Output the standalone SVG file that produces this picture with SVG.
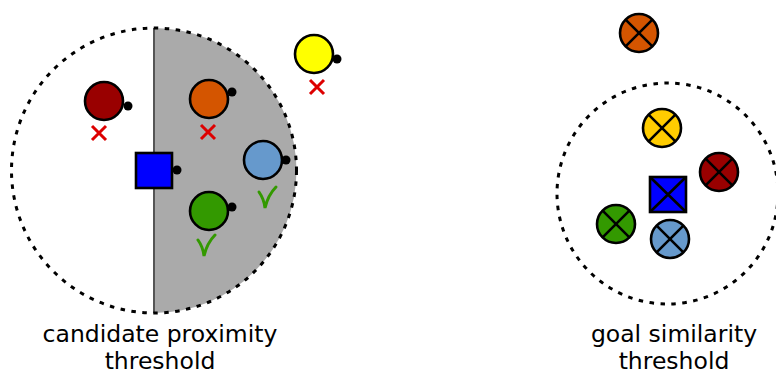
<svg xmlns="http://www.w3.org/2000/svg" width="776" height="371" viewBox="0 0 776 371">
<style>
.ring{fill:none;stroke:#000;stroke-width:3;stroke-dasharray:4.5 6.5}
.n{stroke:#000;stroke-width:2.6}
.dot{fill:#000}
.x{stroke:#dd0000;stroke-width:3;fill:none}
.ok{stroke:#339900;stroke-width:3;fill:none;stroke-linecap:round}
.cr{stroke:#000;stroke-width:2.6}
.lbl{font-family:"DejaVu Sans",sans-serif;font-size:23.5px;fill:#000;text-anchor:middle}
</style>
<defs>
<g id="xm"><path class="x" d="M-7 -7L7 7M-7 7L7 -7"/></g>
</defs>
<rect width="776" height="371" fill="#fff"/>
<g id="proximity-region">
<path d="M154 28 A142.5 142.5 0 0 1 154 313 Z" fill="#aaaaaa"/>
<line x1="154" y1="28" x2="154" y2="313" stroke="#555" stroke-width="2"/>
<circle class="ring" cx="154" cy="170.5" r="142.5"/>
</g>
<g id="left-darkred"><circle class="n" cx="104" cy="101" r="19" fill="#990000"/><circle class="dot" cx="128" cy="106" r="4.5"/><use href="#xm" x="99" y="133"/></g>
<g id="left-orange"><circle class="n" cx="209" cy="99" r="19" fill="#d45500"/><circle class="dot" cx="232" cy="92" r="4.5"/><use href="#xm" x="208" y="132"/></g>
<g id="left-yellow"><circle class="n" cx="314" cy="54" r="19" fill="#ffff00"/><circle class="dot" cx="337" cy="59" r="4.5"/><use href="#xm" x="317" y="87"/></g>
<g id="left-lightblue"><circle class="n" cx="263" cy="160" r="19" fill="#6699cc"/><circle class="dot" cx="286" cy="160" r="4.5"/><path class="ok" d="M259 192 Q264 199 265 208 Q268 195 276 187"/></g>
<g id="left-green"><circle class="n" cx="209" cy="211" r="19" fill="#339900"/><circle class="dot" cx="232" cy="207" r="4.5"/><path class="ok" d="M198 240 Q203 247 204 256 Q207 243 215 235"/></g>
<g id="left-blue"><rect class="n" x="136" y="153" width="36" height="35" fill="#0000ff"/><circle class="dot" cx="177" cy="170" r="4.5"/></g>
<g id="similarity-region"><circle class="ring" cx="667.5" cy="193.5" r="110.5"/></g>
<g id="right-orange"><circle class="n" cx="639" cy="33" r="19" fill="#d45500"/><path class="cr" d="M625.6 19.6L652.4 46.4M625.6 46.4L652.4 19.6"/></g>
<g id="right-yellow"><circle class="n" cx="662" cy="128" r="19" fill="#ffcc00"/><path class="cr" d="M648.6 114.6L675.4 141.4M648.6 141.4L675.4 114.6"/></g>
<g id="right-darkred"><circle class="n" cx="719" cy="172" r="19" fill="#990000"/><path class="cr" d="M705.6 158.6L732.4 185.4M705.6 185.4L732.4 158.6"/></g>
<g id="right-blue"><rect class="n" x="650" y="177" width="36" height="35" fill="#0000ff"/><path class="cr" d="M650 177L686 212M650 212L686 177"/></g>
<g id="right-green"><circle class="n" cx="616" cy="224" r="19" fill="#339900"/><path class="cr" d="M602.6 210.6L629.4 237.4M602.6 237.4L629.4 210.6"/></g>
<g id="right-lightblue"><circle class="n" cx="670" cy="239" r="19" fill="#6699cc"/><path class="cr" d="M656.6 225.6L683.4 252.4M656.6 252.4L683.4 225.6"/></g>
<g id="labels">
<text class="lbl" x="160" y="342">candidate proximity</text>
<text class="lbl" x="160" y="369">threshold</text>
<text class="lbl" x="674" y="342">goal similarity</text>
<text class="lbl" x="674" y="369">threshold</text>
</g>
</svg>
